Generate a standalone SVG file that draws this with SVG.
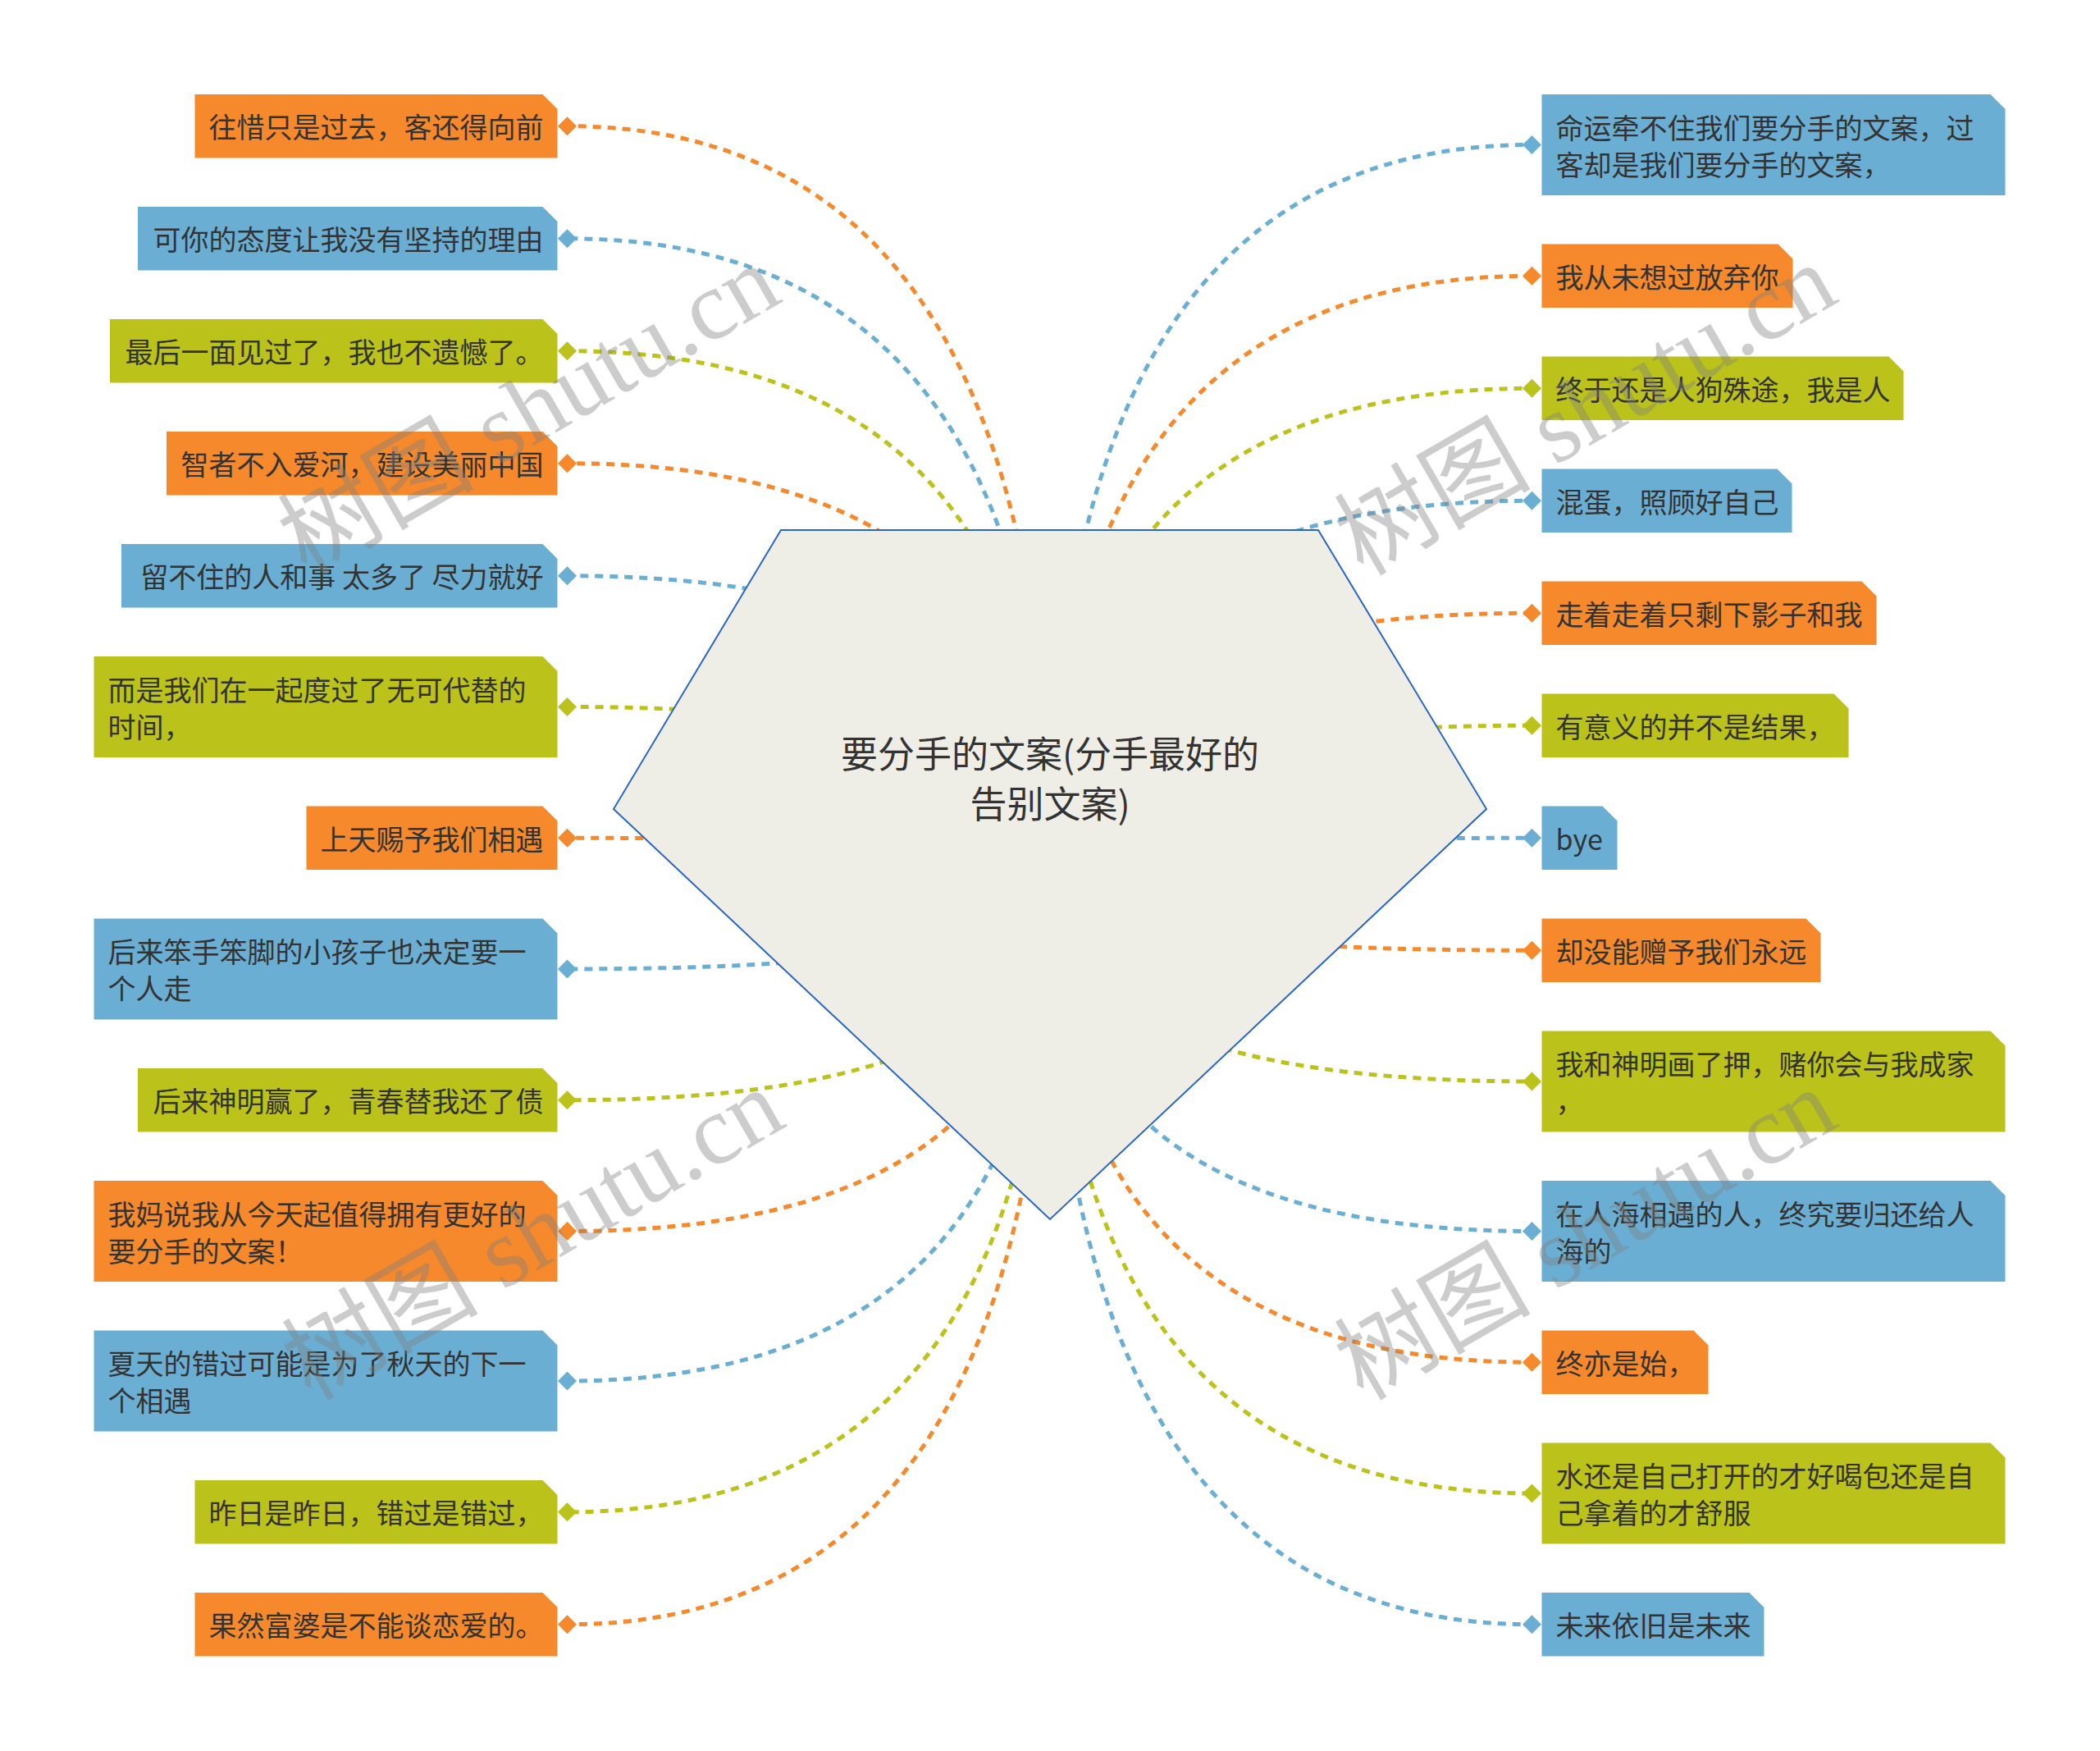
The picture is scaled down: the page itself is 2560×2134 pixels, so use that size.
<svg xmlns="http://www.w3.org/2000/svg" width="2560" height="2134" viewBox="0 0 2560 2134">
<style>
.o{fill:#F5892B}.b{fill:#6AAFD3}.g{fill:#BBC31A}
.co{stroke:#F5892B}.cb{stroke:#6AAFD3}.cg{stroke:#BBC31A}
#connectors path{fill:none;stroke-width:5;stroke-dasharray:10 8}
text{font-family:"Noto Sans CJK SC","Noto Sans",sans-serif;font-size:34px;fill:#333333;dominant-baseline:central}
.le{text-anchor:end}
.title{font-size:45px;text-anchor:middle}
.wm{font-family:"Liberation Serif","Noto Sans CJK SC",serif;font-size:120px;fill:#808080;fill-opacity:0.4;text-anchor:middle;dominant-baseline:auto}
</style>
<rect width="2560" height="2134" fill="#ffffff"/>
<g id="connectors">
<path class="co" d="M1280,1066 Q1280,153.75 691.5,153.75"/>
<path class="cb" d="M1280,1066 Q1280,290.75 691.5,290.75"/>
<path class="cg" d="M1280,1066 Q1280,427.75 691.5,427.75"/>
<path class="co" d="M1280,1066 Q1280,564.75 691.5,564.75"/>
<path class="cb" d="M1280,1066 Q1280,701.75 691.5,701.75"/>
<path class="cg" d="M1280,1066 Q1280,861.5 691.5,861.5"/>
<path class="co" d="M1280,1066 Q1280,1021.25 691.5,1021.25"/>
<path class="cb" d="M1280,1066 Q1280,1181 691.5,1181"/>
<path class="cg" d="M1280,1066 Q1280,1340.75 691.5,1340.75"/>
<path class="co" d="M1280,1066 Q1280,1500.5 691.5,1500.5"/>
<path class="cb" d="M1280,1066 Q1280,1683 691.5,1683"/>
<path class="cg" d="M1280,1066 Q1280,1842.75 691.5,1842.75"/>
<path class="co" d="M1280,1066 Q1280,1979.75 691.5,1979.75"/>
<path class="cb" d="M1280,1066 Q1280,176.5 1867.5,176.5"/>
<path class="co" d="M1280,1066 Q1280,336.25 1867.5,336.25"/>
<path class="cg" d="M1280,1066 Q1280,473.25 1867.5,473.25"/>
<path class="cb" d="M1280,1066 Q1280,610.25 1867.5,610.25"/>
<path class="co" d="M1280,1066 Q1280,747.25 1867.5,747.25"/>
<path class="cg" d="M1280,1066 Q1280,884.25 1867.5,884.25"/>
<path class="cb" d="M1280,1066 Q1280,1021.25 1867.5,1021.25"/>
<path class="co" d="M1280,1066 Q1280,1158.25 1867.5,1158.25"/>
<path class="cg" d="M1280,1066 Q1280,1318 1867.5,1318"/>
<path class="cb" d="M1280,1066 Q1280,1500.5 1867.5,1500.5"/>
<path class="co" d="M1280,1066 Q1280,1660.25 1867.5,1660.25"/>
<path class="cg" d="M1280,1066 Q1280,1820 1867.5,1820"/>
<path class="cb" d="M1280,1066 Q1280,1979.75 1867.5,1979.75"/>
</g>
<g id="center">
<polygon points="952,646 1607,646 1812,986 1280,1486 748,986" fill="#EEEEE6" stroke="#2A66C6" stroke-width="2"/>
<text class="title" x="1280" y="916">要分手的文案(分手最好的</text>
<text class="title" x="1280" y="977">告别文案)</text>
</g>
<g id="L1"><path class="o" d="M237.5,115 H661.5 L679.5,133 V192.5 H237.5 Z"/><path class="o" d="M691.5,142.25 L703,153.75 L691.5,165.25 L680,153.75 Z"/><text class="le" x="662.5" y="153.75">往惜只是过去，客还得向前</text></g>
<g id="L2"><path class="b" d="M168,252 H661.5 L679.5,270 V329.5 H168 Z"/><path class="b" d="M691.5,279.25 L703,290.75 L691.5,302.25 L680,290.75 Z"/><text class="le" x="662.5" y="290.75">可你的态度让我没有坚持的理由</text></g>
<g id="L3"><path class="g" d="M134,389 H661.5 L679.5,407 V466.5 H134 Z"/><path class="g" d="M691.5,416.25 L703,427.75 L691.5,439.25 L680,427.75 Z"/><text class="le" x="662.5" y="427.75">最后一面见过了，我也不遗憾了。</text></g>
<g id="L4"><path class="o" d="M203,526 H661.5 L679.5,544 V603.5 H203 Z"/><path class="o" d="M691.5,553.25 L703,564.75 L691.5,576.25 L680,564.75 Z"/><text class="le" x="662.5" y="564.75">智者不入爱河，建设美丽中国</text></g>
<g id="L5"><path class="b" d="M148,663 H661.5 L679.5,681 V740.5 H148 Z"/><path class="b" d="M691.5,690.25 L703,701.75 L691.5,713.25 L680,701.75 Z"/><text class="le" x="662.5" y="701.75" xml:space="preserve">留不住的人和事 太多了 尽力就好</text></g>
<g id="L6"><path class="g" d="M114.5,800 H661.5 L679.5,818 V923 H114.5 Z"/><path class="g" d="M691.5,850 L703,861.5 L691.5,873 L680,861.5 Z"/><text x="131.5" y="839">而是我们在一起度过了无可代替的</text><text x="131.5" y="884">时间，</text></g>
<g id="L7"><path class="o" d="M373.5,982.5 H661.5 L679.5,1000.5 V1060 H373.5 Z"/><path class="o" d="M691.5,1009.75 L703,1021.25 L691.5,1032.75 L680,1021.25 Z"/><text class="le" x="662.5" y="1021.25">上天赐予我们相遇</text></g>
<g id="L8"><path class="b" d="M114.5,1119.5 H661.5 L679.5,1137.5 V1242.5 H114.5 Z"/><path class="b" d="M691.5,1169.5 L703,1181 L691.5,1192.5 L680,1181 Z"/><text x="131.5" y="1158.5">后来笨手笨脚的小孩子也决定要一</text><text x="131.5" y="1203.5">个人走</text></g>
<g id="L9"><path class="g" d="M168,1302 H661.5 L679.5,1320 V1379.5 H168 Z"/><path class="g" d="M691.5,1329.25 L703,1340.75 L691.5,1352.25 L680,1340.75 Z"/><text class="le" x="662.5" y="1340.75">后来神明赢了，青春替我还了债</text></g>
<g id="L10"><path class="o" d="M114.5,1439 H661.5 L679.5,1457 V1562 H114.5 Z"/><path class="o" d="M691.5,1489 L703,1500.5 L691.5,1512 L680,1500.5 Z"/><text x="131.5" y="1478">我妈说我从今天起值得拥有更好的</text><text x="131.5" y="1523">要分手的文案！</text></g>
<g id="L11"><path class="b" d="M114.5,1621.5 H661.5 L679.5,1639.5 V1744.5 H114.5 Z"/><path class="b" d="M691.5,1671.5 L703,1683 L691.5,1694.5 L680,1683 Z"/><text x="131.5" y="1660.5">夏天的错过可能是为了秋天的下一</text><text x="131.5" y="1705.5">个相遇</text></g>
<g id="L12"><path class="g" d="M237.5,1804 H661.5 L679.5,1822 V1881.5 H237.5 Z"/><path class="g" d="M691.5,1831.25 L703,1842.75 L691.5,1854.25 L680,1842.75 Z"/><text class="le" x="662.5" y="1842.75">昨日是昨日，错过是错过，</text></g>
<g id="L13"><path class="o" d="M237.5,1941 H661.5 L679.5,1959 V2018.5 H237.5 Z"/><path class="o" d="M691.5,1968.25 L703,1979.75 L691.5,1991.25 L680,1979.75 Z"/><text class="le" x="662.5" y="1979.75">果然富婆是不能谈恋爱的。</text></g>
<g id="R1"><path class="b" d="M1879.5,115 H2426.5 L2444.5,133 V238 H1879.5 Z"/><path class="b" d="M1867.5,165 L1879,176.5 L1867.5,188 L1856,176.5 Z"/><text x="1896.5" y="154">命运牵不住我们要分手的文案，过</text><text x="1896.5" y="199">客却是我们要分手的文案，</text></g>
<g id="R2"><path class="o" d="M1879.5,297.5 H2167.5 L2185.5,315.5 V375 H1879.5 Z"/><path class="o" d="M1867.5,324.75 L1879,336.25 L1867.5,347.75 L1856,336.25 Z"/><text x="1896.5" y="336.25">我从未想过放弃你</text></g>
<g id="R3"><path class="g" d="M1879.5,434.5 H2302.5 L2320.5,452.5 V512 H1879.5 Z"/><path class="g" d="M1867.5,461.75 L1879,473.25 L1867.5,484.75 L1856,473.25 Z"/><text x="1896.5" y="473.25">终于还是人狗殊途，我是人</text></g>
<g id="R4"><path class="b" d="M1879.5,571.5 H2166.5 L2184.5,589.5 V649 H1879.5 Z"/><path class="b" d="M1867.5,598.75 L1879,610.25 L1867.5,621.75 L1856,610.25 Z"/><text x="1896.5" y="610.25">混蛋，照顾好自己</text></g>
<g id="R5"><path class="o" d="M1879.5,708.5 H2269.5 L2287.5,726.5 V786 H1879.5 Z"/><path class="o" d="M1867.5,735.75 L1879,747.25 L1867.5,758.75 L1856,747.25 Z"/><text x="1896.5" y="747.25">走着走着只剩下影子和我</text></g>
<g id="R6"><path class="g" d="M1879.5,845.5 H2235.5 L2253.5,863.5 V923 H1879.5 Z"/><path class="g" d="M1867.5,872.75 L1879,884.25 L1867.5,895.75 L1856,884.25 Z"/><text x="1896.5" y="884.25">有意义的并不是结果，</text></g>
<g id="R7"><path class="b" d="M1879.5,982.5 H1953.5 L1971.5,1000.5 V1060 H1879.5 Z"/><path class="b" d="M1867.5,1009.75 L1879,1021.25 L1867.5,1032.75 L1856,1021.25 Z"/><text x="1896.5" y="1021.25">bye</text></g>
<g id="R8"><path class="o" d="M1879.5,1119.5 H2201.5 L2219.5,1137.5 V1197 H1879.5 Z"/><path class="o" d="M1867.5,1146.75 L1879,1158.25 L1867.5,1169.75 L1856,1158.25 Z"/><text x="1896.5" y="1158.25">却没能赠予我们永远</text></g>
<g id="R9"><path class="g" d="M1879.5,1256.5 H2426.5 L2444.5,1274.5 V1379.5 H1879.5 Z"/><path class="g" d="M1867.5,1306.5 L1879,1318 L1867.5,1329.5 L1856,1318 Z"/><text x="1896.5" y="1295.5">我和神明画了押，赌你会与我成家</text><text x="1896.5" y="1340.5">，</text></g>
<g id="R10"><path class="b" d="M1879.5,1439 H2426.5 L2444.5,1457 V1562 H1879.5 Z"/><path class="b" d="M1867.5,1489 L1879,1500.5 L1867.5,1512 L1856,1500.5 Z"/><text x="1896.5" y="1478">在人海相遇的人，终究要归还给人</text><text x="1896.5" y="1523">海的</text></g>
<g id="R11"><path class="o" d="M1879.5,1621.5 H2064.5 L2082.5,1639.5 V1699 H1879.5 Z"/><path class="o" d="M1867.5,1648.75 L1879,1660.25 L1867.5,1671.75 L1856,1660.25 Z"/><text x="1896.5" y="1660.25">终亦是始，</text></g>
<g id="R12"><path class="g" d="M1879.5,1758.5 H2426.5 L2444.5,1776.5 V1881.5 H1879.5 Z"/><path class="g" d="M1867.5,1808.5 L1879,1820 L1867.5,1831.5 L1856,1820 Z"/><text x="1896.5" y="1797.5">水还是自己打开的才好喝包还是自</text><text x="1896.5" y="1842.5">己拿着的才舒服</text></g>
<g id="R13"><path class="b" d="M1879.5,1941 H2132.5 L2150.5,1959 V2018.5 H1879.5 Z"/><path class="b" d="M1867.5,1968.25 L1879,1979.75 L1867.5,1991.25 L1856,1979.75 Z"/><text x="1896.5" y="1979.75">未来依旧是未来</text></g>
<g id="watermark">
<text class="wm" transform="rotate(-30 645 500)" x="645" y="540">树图 shutu.cn</text>
<text class="wm" transform="rotate(-30 650 1505)" x="650" y="1545">树图 shutu.cn</text>
<text class="wm" transform="rotate(-30 1933 500)" x="1933" y="540">树图 shutu.cn</text>
<text class="wm" transform="rotate(-30 1933 1505)" x="1933" y="1545">树图 shutu.cn</text>
</g>
</svg>
